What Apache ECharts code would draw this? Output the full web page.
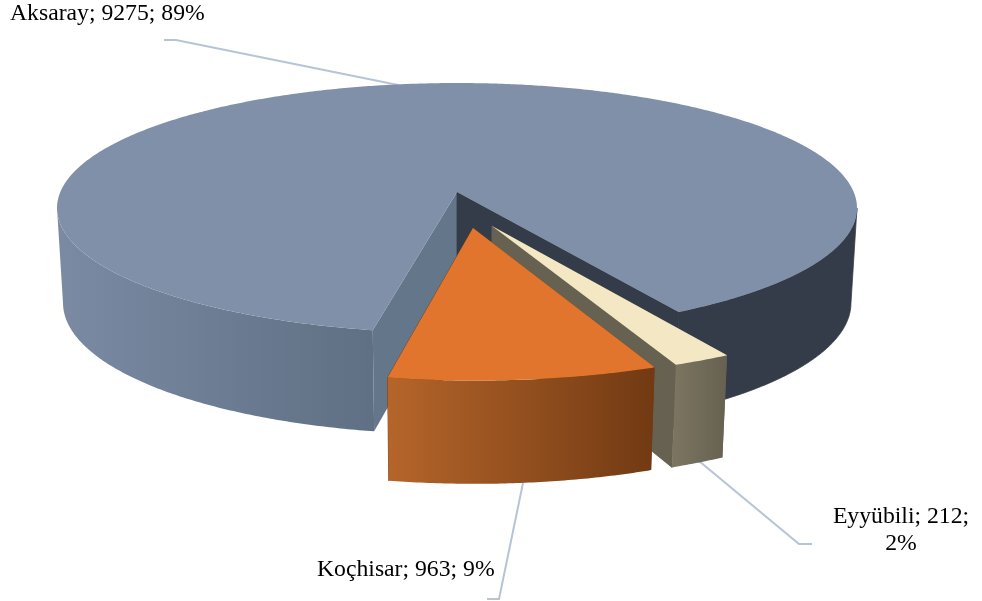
<!DOCTYPE html>
<html><head><meta charset="utf-8">
<style>html,body{margin:0;padding:0;background:#fff}#c{width:982px;height:601px}</style>
<script src="https://cdn.jsdelivr.net/npm/echarts@6/dist/echarts.min.js"></script>
</head><body><div id="c"></div>
<script>
const names = ['Aksaray', 'Eyyübili', 'Koçhisar'];
const values = [9275, 212, 963];

// Perspective view of the pie plane
const view = { cx: 457, cy: 192, A: 396.7, B: 122.95, k: 0.128, H: 98, mx: 0.015, my: 0.04, startDeg: 190.7, rimLo: 97.4, rimHi: 262.6 };
const explodeU = [0, 0.0852, 0.0389];
const explodeV = [0, -0.267, -0.282];
const topColors = ['#8090a9', '#f3e8c3', '#e1752d'];
const startWall = ['#64768a', '#666150', '#723a13'];
const endWall = ['#333c48', '#666150', '#723a13'];
const frontLeftWall = [['#7a8aa3', '#5f7084', 60, 373], ['#7a7460', '#666150', 676, 727], ['#b5652a', '#723a13', 388, 653]];
const frontRightWall = [['#333c48', '#333c48', 680, 852], ['#7a7460', '#666150', 676, 727], ['#b5652a', '#723a13', 388, 653]];
const labelPos = [[10, 27, 'left'], [901, 557, 'center'], [317, 583, 'left']];
const labelWrap = [false, true, false];
const leaders = [
  [[164, 40], [176, 40], [398, 85]],
  [[699, 461], [799, 544], [812, 544]],
  [[523, 483], [499, 599], [487, 599]]
];
const labelFont = '23.7px "Liberation Serif", "Times New Roman", serif';

const total = values.reduce((a, b) => a + b, 0);
const spans = values.map(v => v / total * 360);

function project(u, v, z) {
  const base = 1 + view.k * v;
  return [view.cx + view.A * u / (base + view.mx * z), view.cy + (-view.B * v + view.H * z) / (base + view.my * z)];
}
function rim(i, deg, z) {
  const t = deg * Math.PI / 180;
  return project(explodeU[i] + Math.sin(t), explodeV[i] + Math.cos(t), z);
}
function arcPts(i, a, b, z) {
  const n = Math.max(2, Math.ceil(Math.abs(b - a) * 2));
  const pts = [];
  for (let j = 0; j <= n; j++) pts.push(rim(i, a + (b - a) * j / n, z));
  return pts;
}
function poly(points, fill, stroke) {
  return { type: 'polygon', shape: { points }, style: { fill, stroke: stroke || null, lineWidth: stroke ? 0.75 : 0 } };
}
function wallFill(g) {
  if (g[0] === g[1]) return g[0];
  return new echarts.graphic.LinearGradient(g[2], 0, g[3], 0, [{ offset: 0, color: g[0] }, { offset: 1, color: g[1] }], true);
}

function renderSlice(params, api) {
  const i = api.value(0);
  let a = view.startDeg;
  for (let j = 0; j < i; j++) a += spans[j];
  const b = a + spans[i];
  const centerTop = project(explodeU[i], explodeV[i], 0);
  const centerBot = project(explodeU[i], explodeV[i], 1);
  const children = [];
  children.push(poly([centerTop, rim(i, a, 0), rim(i, a, 1), centerBot], startWall[i]));
  children.push(poly([centerTop, rim(i, b, 0), rim(i, b, 1), centerBot], endWall[i], endWall[i]));
  // visible outer wall: the front part of the rim, up to the silhouette
  [[view.rimLo, view.rimHi], [view.rimLo + 360, view.rimHi + 360]].forEach(([lo, hi], pass) => {
    const p = Math.max(a, lo), q = Math.min(b, hi);
    if (q > p) {
      const g = pass === 0 ? frontLeftWall[i] : frontRightWall[i];
      children.push(poly(arcPts(i, p, q, 0).concat(arcPts(i, q, p, 1)), wallFill(g), g[0] === g[1] ? g[0] : null));
    }
  });
  children.push(poly([centerTop].concat(arcPts(i, a, b, 0)), topColors[i]));
  return { type: 'group', children };
}

function renderLeader(params, api) {
  const i = api.value(0);
  return { type: 'polyline', shape: { points: leaders[i] },
    style: { fill: null, stroke: '#b7c4d6', lineWidth: 2 } };
}
function renderLabel(params, api) {
  const i = api.value(0);
  const pct = Math.round(values[i] / total * 100);
  const sep = labelWrap[i] ? '\n' : ' ';
  return { type: 'text', x: labelPos[i][0], y: labelPos[i][1],
    style: { text: names[i] + '; ' + values[i] + ';' + sep + pct + '%', font: labelFont, fill: '#000',
      align: labelPos[i][2], verticalAlign: 'bottom', lineHeight: 27 } };
}

const idx = names.map((n, i) => [i]);
const chart = echarts.init(document.getElementById('c'), null, { renderer: 'canvas' });
chart.setOption({
  animation: false,
  backgroundColor: '#ffffff',
  series: [
    { type: 'custom', coordinateSystem: 'none', z: 1, silent: true, data: idx, renderItem: renderLeader },
    { type: 'custom', coordinateSystem: 'none', z: 2, silent: true, data: idx, renderItem: renderSlice },
    { type: 'custom', coordinateSystem: 'none', z: 3, silent: true, data: idx, renderItem: renderLabel }
  ]
});
</script></body></html>
